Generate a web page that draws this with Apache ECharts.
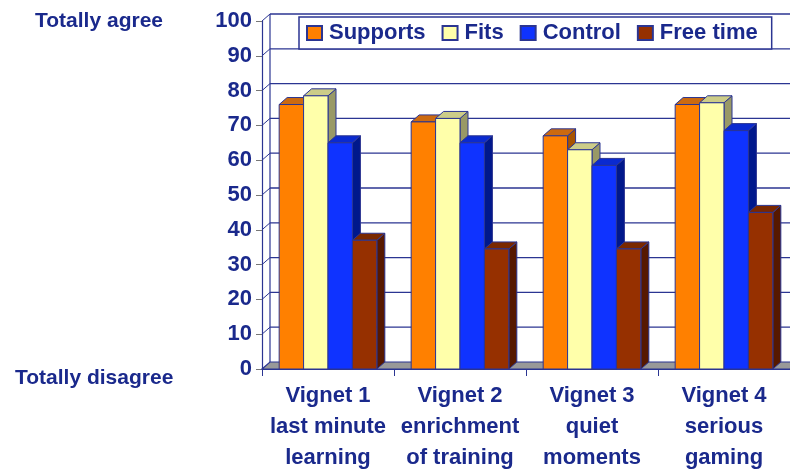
<!DOCTYPE html>
<html>
<head>
<meta charset="utf-8">
<script src="https://cdn.jsdelivr.net/npm/echarts@6/dist/echarts.min.js"></script>
<style>
  html, body { margin: 0; padding: 0; background: #fff; }
  #chart { width: 790px; height: 470px; }
</style>
</head>
<body>
<div id="chart"></div>
<script>
const categories = ['Vignet 1\nlast minute\nlearning', 'Vignet 2\nenrichment\nof training', 'Vignet 3\nquiet\nmoments', 'Vignet 4\nserious\ngaming'];
const seriesNames = ['Supports', 'Fits', 'Control', 'Free time'];
const supports = [76, 71, 67, 76];
const fits = [78.5, 72, 63, 76.5];
const control = [65, 65, 58.5, 68.5];
const freeTime = [37, 34.5, 34.5, 45];
const yTicks = [0, 10, 20, 30, 40, 50, 60, 70, 80, 90, 100];

const navy = '#1a298c';
const edge = '#2b3592';
const DX = 8, DY = 7; // depth of the 3d box
const faces = [
    {front: '#ff8000', top: '#cc6a10', side: '#a85400'},
    {front: '#ffffaa', top: '#cccc88', side: '#999966'},
    {front: '#0f33ff', top: '#0a2ad0', side: '#00188c'},
    {front: '#963000', top: '#7a2800', side: '#561800'}
];

function barRender(s) {
    return function (params, api) {
        let idx = api.value(0);
        let base = api.coord([idx, 0]);
        let top = api.coord([idx, api.value(1)]);
        let w = api.size([1, 0])[0] * 0.185;
        let x0 = base[0] + (s - 2) * w, x1 = x0 + w;
        let y0 = base[1], y1 = top[1];
        let c = faces[s];
        return {
            type: 'group',
            children: [
                {type: 'polygon', shape: {points: [[x1, y0], [x1 + DX, y0 - DY], [x1 + DX, y1 - DY], [x1, y1]]},
                    style: {fill: c.side, stroke: edge, lineWidth: 1}},
                {type: 'polygon', shape: {points: [[x0, y1], [x0 + DX, y1 - DY], [x1 + DX, y1 - DY], [x1, y1]]},
                    style: {fill: c.top, stroke: edge, lineWidth: 1}},
                {type: 'rect', shape: {x: x0, y: y1, width: w, height: y0 - y1},
                    style: {fill: c.front, stroke: edge, lineWidth: 1}}
            ]
        };
    };
}

// back wall, side wall and floor
function wallRender(params, api) {
    let cs = params.coordSys;
    let v = api.value(1);
    let y = api.coord([0, v])[1];
    let xl = cs.x, xr = cs.x + cs.width;
    let kids = [];
    if (v === 0) {
        kids.push({type: 'polygon', shape: {points: [[xl, y], [xr, y], [xr + DX, y - DY], [xl + DX, y - DY]]},
            style: {fill: '#999999', stroke: edge, lineWidth: 1.2}});
        kids.push({type: 'line', shape: {x1: xl + DX, y1: y - DY, x2: xl + DX, y2: cs.y - DY},
            style: {stroke: edge, lineWidth: 1.2}});
    } else {
        kids.push({type: 'line', shape: {x1: xl + DX, y1: y - DY, x2: xr + DX, y2: y - DY},
            style: {stroke: edge, lineWidth: 1.3}});
        kids.push({type: 'line', shape: {x1: xl, y1: y, x2: xl + DX, y2: y - DY},
            style: {stroke: edge, lineWidth: 1}});
    }
    return {type: 'group', children: kids};
}

const values = [supports, fits, control, freeTime];
let series = [{
    name: 'walls',
    type: 'custom',
    z: 1,
    silent: true,
    renderItem: wallRender,
    data: yTicks.map(function (v) { return [0, v]; })
}];
seriesNames.forEach(function (name, s) {
    series.push({
        name: name,
        type: 'custom',
        z: 2,
        renderItem: barRender(s),
        itemStyle: {color: faces[s].front, borderColor: edge, borderWidth: 1},
        data: values[s].map(function (v, i) { return [i, v]; })
    });
});

let myChart = echarts.init(document.getElementById('chart'), null, {renderer: 'canvas'});
const option = {
    animation: false,
    grid: {left: 262, right: 0, top: 21, bottom: 101, outerBoundsMode: 'none', containLabel: false},
    legend: {
        data: seriesNames,
        left: 299,
        top: 17,
        padding: [5, 14, 5, 7],
        itemGap: 16,
        itemWidth: 15,
        itemHeight: 14,
        icon: 'rect',
        borderColor: edge,
        borderWidth: 1.5,
        backgroundColor: '#fff',
        textStyle: {color: navy, fontSize: 22, fontWeight: 'bold', fontFamily: 'Liberation Sans', padding: [0, 0, 0, 2]}
    },
    xAxis: {
        type: 'category',
        data: categories,
        axisLine: {show: true, lineStyle: {color: edge, width: 1.2}},
        axisTick: {show: true, length: 7, lineStyle: {color: edge}},
        axisLabel: {
            interval: 0, margin: 11, lineHeight: 31,
            color: navy, fontSize: 22, fontWeight: 'bold', fontFamily: 'Liberation Sans'
        }
    },
    yAxis: {
        type: 'value',
        min: 0,
        max: 100,
        interval: 10,
        axisLine: {show: true, lineStyle: {color: edge, width: 1.2}},
        axisTick: {show: true, length: 6, lineStyle: {color: '#777'}},
        splitLine: {show: false},
        axisLabel: {margin: 10, color: navy, fontSize: 22, fontWeight: 'bold', fontFamily: 'Liberation Sans'}
    },
    graphic: [
        {type: 'text', left: 35, top: 11, style: {text: 'Totally agree', fill: navy, fontSize: 21, fontWeight: 'bold', fontFamily: 'Liberation Sans'}},
        {type: 'text', left: 15, top: 368, style: {text: 'Totally disagree', fill: navy, fontSize: 21, fontWeight: 'bold', fontFamily: 'Liberation Sans'}}
    ],
    series: series
};
myChart.setOption(option, true);
</script>
</body>
</html>
